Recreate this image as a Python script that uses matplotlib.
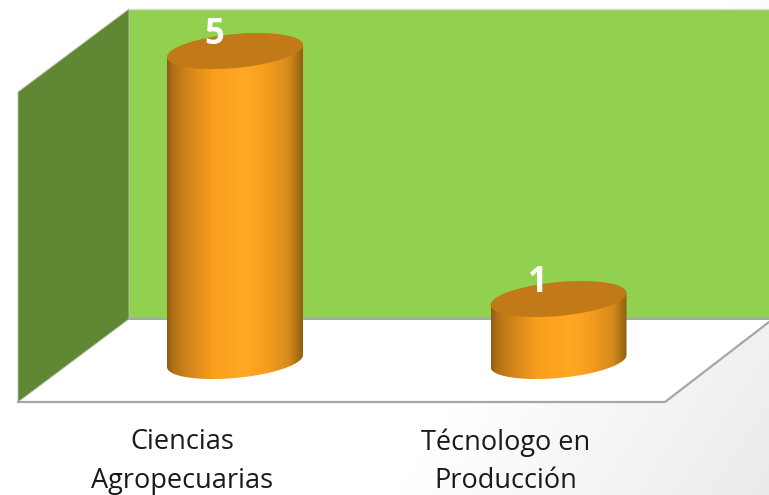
import matplotlib
matplotlib.use("Agg")
import matplotlib.pyplot as plt
from matplotlib.colors import LinearSegmentedColormap
from matplotlib.patches import Polygon
import numpy as np

# Chart values
categories = ["Ciencias\nAgropecuarias", "Técnologo en\nProducción"]
values = [5, 1]

W, H = 769, 495
fig = plt.figure(figsize=(W / 100, H / 100), dpi=100)

# Backdrop: walls and floor, laid out in pixels
bg = fig.add_axes([0, 0, 1, 1], zorder=0)
bg.axis("off")
xx, yy = np.meshgrid(np.linspace(0, 1, 200), np.linspace(0, 1, 130))
shade = np.clip((0.7 * xx + 0.3 * yy - 0.66) / 0.34, 0, 1)
grey = LinearSegmentedColormap.from_list("grey", ["#ffffff", "#ebebeb"])
bg.imshow(shade, cmap=grey, extent=(0, W, H, 0), aspect="auto", vmin=0, vmax=1)

floor = Polygon([(129, 319), (769, 319), (769, 322), (665, 402), (18, 402)], closed=True,
                fc="white", ec="none")
bg.add_patch(floor)
floor_img = bg.imshow(shade[::-1, :] * 0.5, cmap=grey, extent=(0, W, H, 0), aspect="auto", vmin=0, vmax=1)
floor_img.set_clip_path(floor)
bg.add_patch(Polygon([(129, 9), (769, 9), (769, 319), (129, 319)], fc="#92d050", ec="none"))
bg.plot([129, 769], [8.5, 8.5], color="#d5dccb", lw=1)
bg.add_patch(Polygon([(18, 92), (129, 9), (129, 319), (18, 402)], fc="#608733", ec="#b9c4aa", lw=0.6))
bg.plot([129, 769], [319, 319], color="#a6a6a6", lw=1.4)
bg.plot([18, 665, 769], [402, 402, 322], color="#a6a6a6", lw=1.6)
bg.set_xlim(0, W)
bg.set_ylim(H, 0)

# Chart axes: one category = 323.5 px, one unit of value = 62 px
ax = fig.add_axes([0, 0, 1, 1], zorder=1)
ax.patch.set_alpha(0)
ax.axis("off")

half_w = 68 / 323.5   # cylinder radius in x units
tilt = 6 / 62         # cap tilt in y units
cap_h = 17 / 62       # cap half height in y units

body_cmap = LinearSegmentedColormap.from_list(
    "body",
    [(0.0, "#8f5c12"), (0.04, "#b06f16"), (0.14, "#cf821a"), (0.34, "#f99d1d"),
     (0.58, "#ffa923"), (0.74, "#f59c1d"), (0.9, "#d68a1b"), (1.0, "#8f5f12")],
)
ramp = np.linspace(0, 1, 256).reshape(1, -1)
t = np.linspace(0, 2 * np.pi, 181)

for i, v in enumerate(values):
    ex = i + half_w * np.cos(t)
    ey = tilt * np.cos(t) + cap_h * np.sin(t)
    lower = t >= np.pi
    # body outline: bottom half of the base ellipse, then up and across the top
    outline = np.column_stack([
        np.r_[ex[lower], i + half_w, i - half_w],
        np.r_[ey[lower], v + tilt, v - tilt],
    ])
    clip = Polygon(outline, closed=True, transform=ax.transData, fc="none", ec="none")
    ax.add_patch(clip)
    im = ax.imshow(ramp, cmap=body_cmap, aspect="auto",
                   extent=(i - half_w, i + half_w, -0.4, v + 0.2), zorder=2)
    im.set_clip_path(clip)
    ax.fill(ex, v + ey, color="#c27a18", zorder=3, lw=0)
    ax.annotate(str(v), (i, v), xytext=(-15, 11.5), textcoords="offset points",
                ha="center", va="center", color="white", fontsize=25, fontweight="bold",
                family="Open Sans", zorder=4)
    ax.annotate(categories[i], (i, 0), xytext=(-38, -72.5), textcoords="offset points",
                ha="center", va="center", color="#1a1a1a", fontsize=19.5,
                family="Open Sans", linespacing=1.5, zorder=4)

ax.set_xlim(-235 / 323.5, (W - 235) / 323.5)
ax.set_ylim(-(H - 361) / 62, 361 / 62)

fig.savefig("out.png", dpi=100)
